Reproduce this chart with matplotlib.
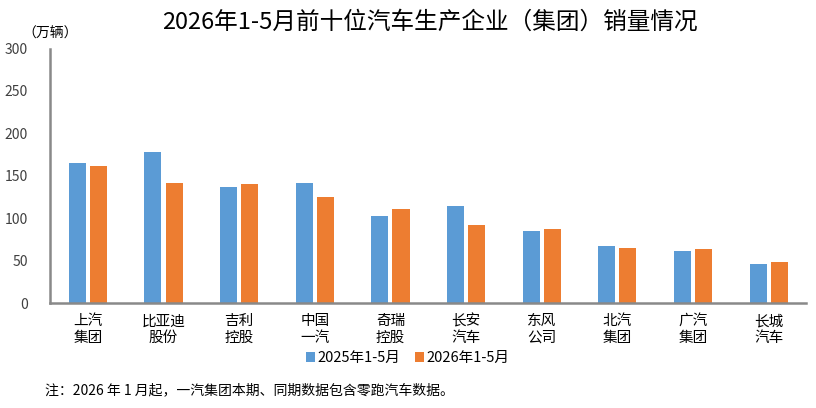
import numpy as np
import matplotlib.pyplot as plt

plt.rcParams['font.family'] = ['Noto Sans CJK SC', 'DejaVu Sans']

categories = ["上汽\n集团", "比亚迪\n股份", "吉利\n控股", "中国\n一汽", "奇瑞\n控股",
              "长安\n汽车", "东风\n公司", "北汽\n集团", "广汽\n集团", "长城\n汽车"]
sales_2025 = [165.0, 178.0, 136.6, 141.4, 102.4, 114.2, 84.7, 67.0, 61.0, 45.7]
sales_2026 = [161.5, 141.4, 140.2, 124.8, 110.7, 91.8, 87.0, 64.6, 63.4, 48.0]
series_names = ["2025年1-5月", "2026年1-5月"]
yticks = [0, 50, 100, 150, 200, 250, 300]

blue = "#5B9BD5"
orange = "#ED7D31"
axis_gray = "#898989"

fig = plt.figure(figsize=(8.16, 4.08), dpi=100)
ax = fig.add_axes([0.0613, 0.257, 0.927, 0.624])

x = np.arange(len(categories))
w = 0.225
gap = 0.055
ax.bar(x - (w + gap) / 2, sales_2025, width=w, color=blue, label=series_names[0])
ax.bar(x + (w + gap) / 2, sales_2026, width=w, color=orange, label=series_names[1])

ax.set_xlim(-0.5, len(categories) - 0.5)
ax.set_ylim(0, 300)
ax.set_yticks(yticks)
ax.set_xticks(x)
ax.set_xticklabels(categories, fontsize=10.5, linespacing=1.25)
ax.tick_params(axis='y', length=0, labelsize=10, pad=16, colors='#404040')
ax.tick_params(axis='x', length=0, pad=8)

for s in ['top', 'right']:
    ax.spines[s].set_visible(False)
for s in ['left', 'bottom']:
    ax.spines[s].set_color(axis_gray)
    ax.spines[s].set_linewidth(1.8)

fig.text(0.527, 0.945, "2026年1-5月前十位汽车生产企业（集团）销量情况",
         ha='center', va='center', fontsize=17)
fig.text(0.027, 0.918, "（万辆）", ha='left', va='center', fontsize=10)

leg = fig.legend(loc='center', bbox_to_anchor=(0.5, 0.122), ncol=2, frameon=False,
                 fontsize=10.5, handlelength=0.6, handleheight=0.6, handletextpad=0.2,
                 columnspacing=1.0)

fig.text(0.055, 0.043, "注：2026 年 1 月起，一汽集团本期、同期数据包含零跑汽车数据。",
         ha='left', va='center', fontsize=10)

fig.savefig("out.png", dpi=100)
